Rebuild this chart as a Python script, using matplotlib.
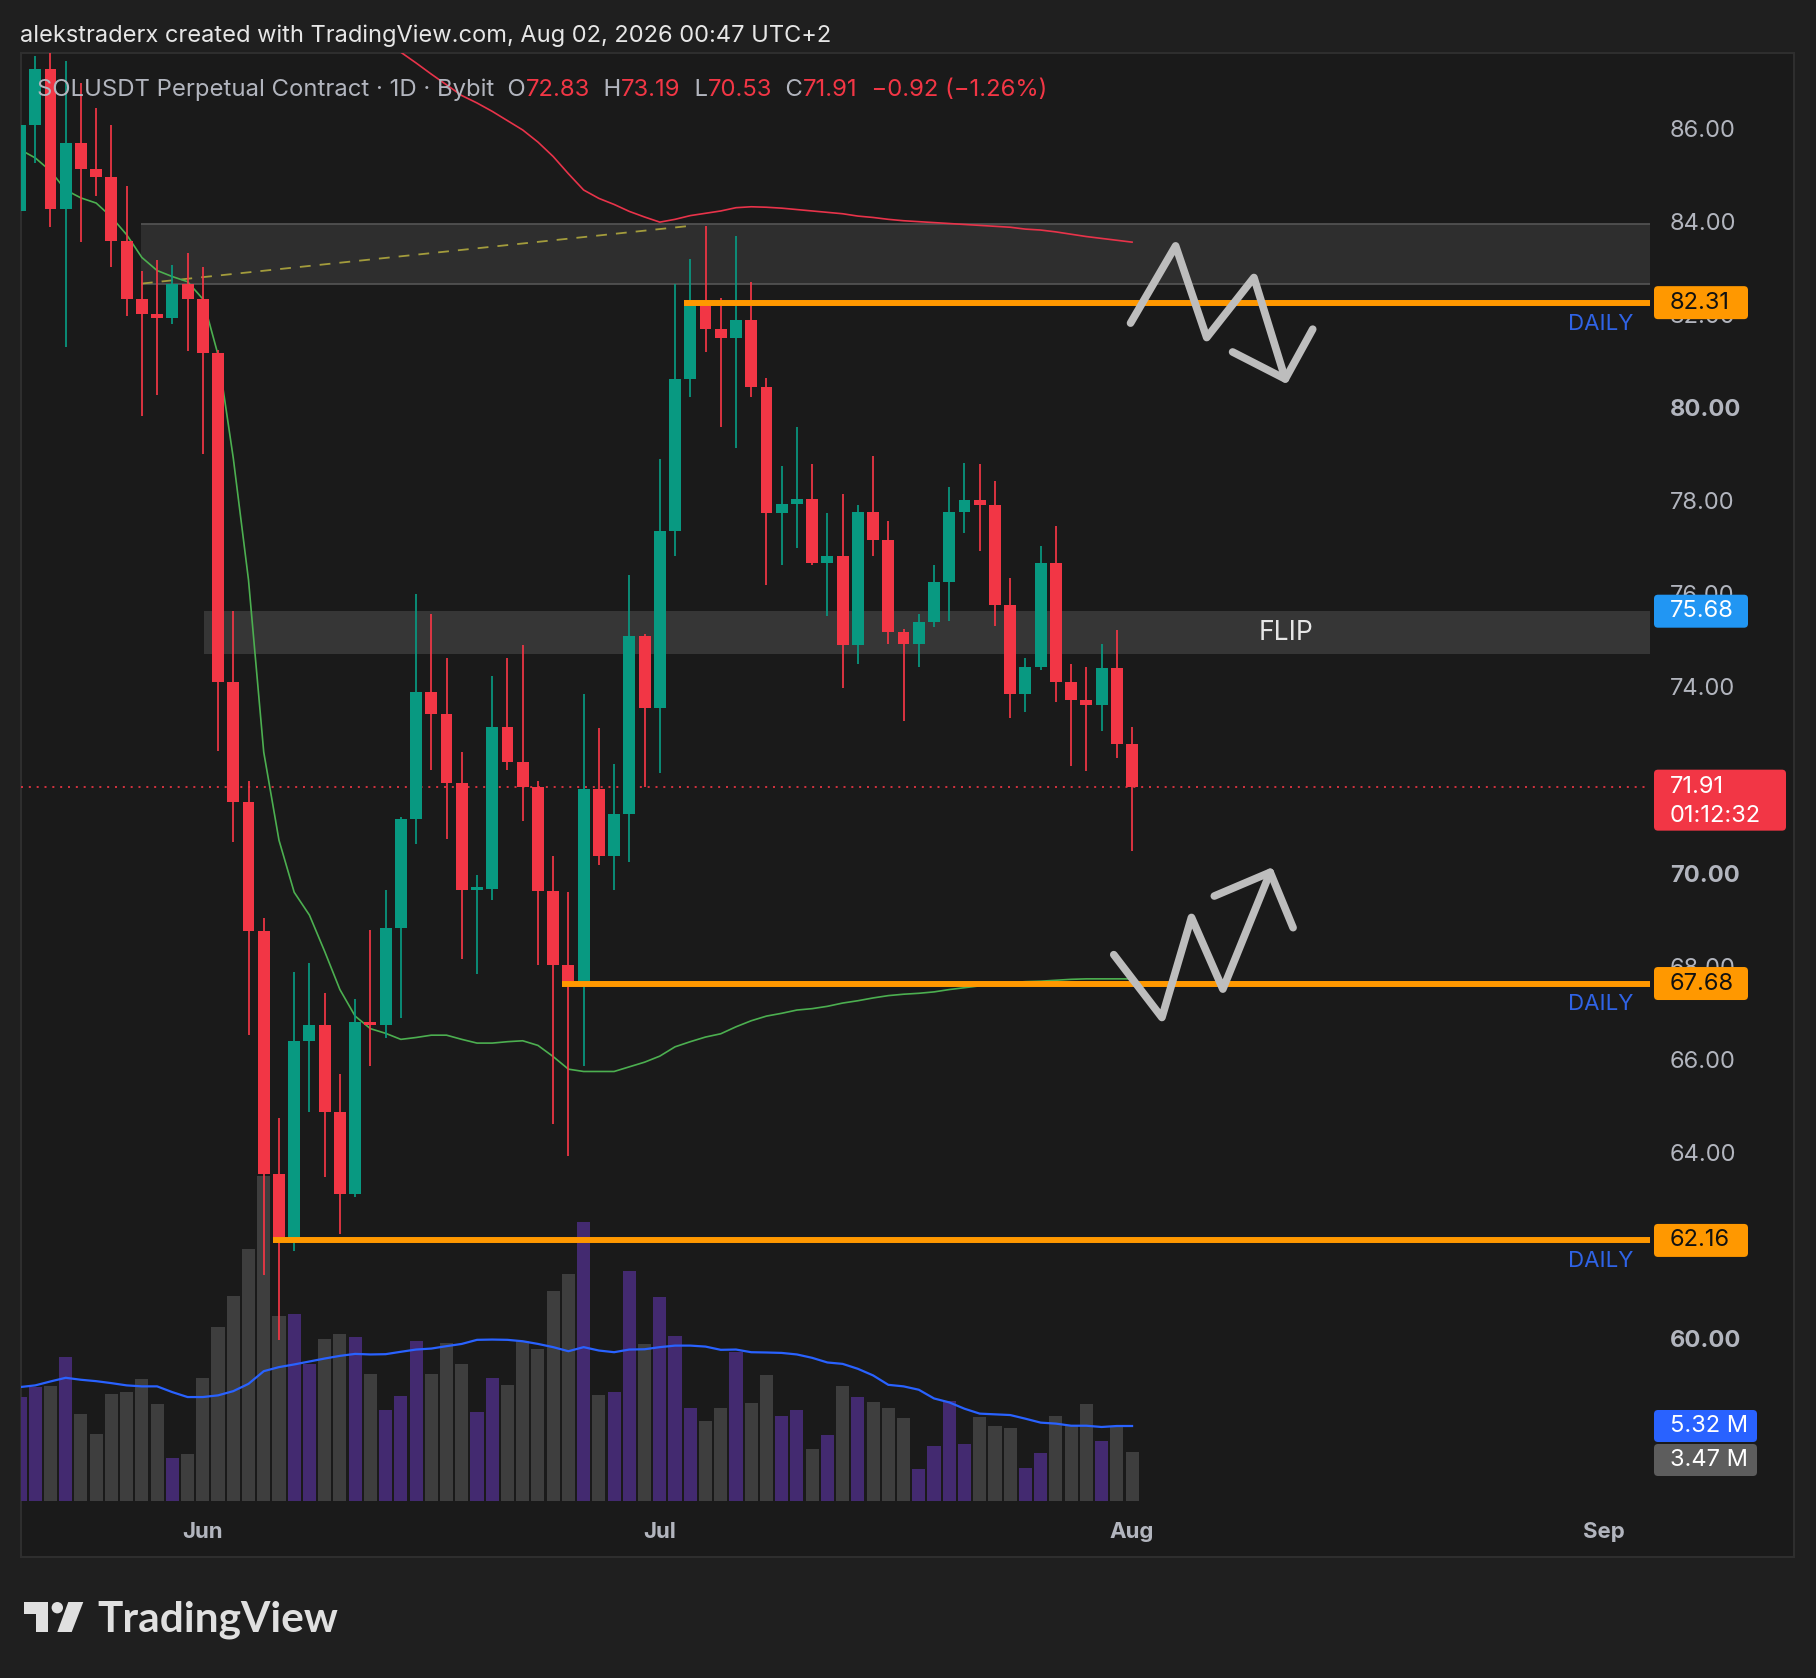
import matplotlib
matplotlib.use('Agg')
import matplotlib.pyplot as plt
import matplotlib.transforms as mtransforms
from matplotlib.patches import Rectangle, FancyBboxPatch, Polygon, Circle
import numpy as np

W, H, DPI = 1816, 1678, 100

# ---- SOLUSDT daily candles, 20 May -> 1 Aug ----
OPEN = [84.27, 86.12, 87.32, 84.32, 85.75, 85.19, 85.01, 83.63, 82.38, 82.07,
        81.97, 82.72, 82.39, 81.23, 74.16, 71.58, 68.81, 63.59, 62.13, 66.45,
        66.78, 64.92, 63.15, 66.86, 66.78, 68.87, 71.22, 73.95, 73.47, 71.99,
        69.69, 69.72, 73.19, 72.43, 71.91, 69.66, 68.08, 67.67, 71.86, 70.43,
        71.33, 75.15, 73.60, 77.41, 80.67, 82.30, 81.74, 81.54, 81.93, 80.50,
        77.79, 77.99, 78.10, 76.71, 76.87, 74.95, 77.82, 77.22, 75.24, 74.98,
        75.44, 76.31, 77.82, 78.07, 77.96, 75.82, 73.91, 74.49, 76.72, 74.16,
        73.77, 73.67, 74.46, 72.83]
HIGH = [86.90, 87.60, 87.70, 87.50, 87.03, 86.50, 86.12, 84.81, 83.00, 83.22,
        83.12, 83.38, 83.08, 81.30, 75.69, 72.04, 69.08, 64.79, 67.92, 68.13,
        67.47, 65.74, 67.34, 68.82, 69.69, 71.25, 76.05, 75.61, 74.67, 72.65,
        70.02, 74.29, 74.67, 74.95, 72.04, 70.43, 69.64, 73.91, 73.17, 72.40,
        76.46, 75.20, 78.94, 82.72, 83.25, 83.96, 82.40, 83.74, 82.76, 80.70,
        78.81, 79.63, 78.84, 77.78, 78.19, 77.96, 79.02, 77.61, 75.30, 75.61,
        76.67, 78.35, 78.86, 78.84, 78.48, 76.39, 74.67, 77.09, 77.50, 74.54,
        74.49, 74.98, 75.27, 73.19]
LOW = [83.82, 85.30, 83.94, 81.36, 83.61, 84.61, 83.08, 82.02, 79.88, 80.32,
       81.85, 81.28, 79.06, 72.68, 70.72, 66.57, 61.41, 60.03, 61.93, 64.92,
       63.53, 62.29, 63.10, 65.91, 66.52, 66.94, 70.68, 72.27, 70.79, 68.21,
       67.88, 69.47, 72.27, 71.17, 68.08, 64.67, 63.98, 65.91, 70.23, 69.69,
       70.30, 71.91, 72.20, 76.87, 80.29, 81.24, 79.63, 79.19, 80.29, 76.25,
       76.67, 77.04, 76.67, 75.57, 74.04, 74.54, 76.87, 74.98, 73.31, 74.49,
       75.33, 75.47, 77.37, 76.97, 75.36, 73.39, 73.52, 74.42, 73.72, 72.35,
       72.24, 73.11, 72.53, 70.53]
CLOSE = [86.12, 87.32, 84.32, 85.75, 85.19, 85.01, 83.63, 82.38, 82.07, 81.97,
         82.72, 82.39, 81.23, 74.16, 71.58, 68.81, 63.59, 62.13, 66.45, 66.78,
         64.92, 63.15, 66.86, 66.78, 68.87, 71.22, 73.95, 73.47, 71.99, 69.69,
         69.72, 73.19, 72.43, 71.91, 69.66, 68.08, 67.67, 71.86, 70.43, 71.33,
         75.15, 73.60, 77.41, 80.67, 82.30, 81.74, 81.54, 81.93, 80.50, 77.79,
         77.99, 78.10, 76.71, 76.87, 74.95, 77.82, 77.22, 75.24, 74.98, 75.44,
         76.31, 77.82, 78.07, 77.96, 75.82, 73.91, 74.49, 76.72, 74.16, 73.77,
         73.67, 74.46, 72.83, 71.91]
# volume in millions
VOLUME = [7.38, 8.09, 8.14, 10.22, 6.20, 4.78, 7.57, 7.71, 8.68, 6.91,
          3.07, 3.36, 8.75, 12.39, 14.59, 17.90, 23.10, 13.17, 13.29, 9.70,
          11.52, 11.83, 11.68, 8.99, 6.43, 7.43, 11.40, 8.99, 11.23, 9.70,
          6.29, 8.70, 8.21, 11.35, 10.83, 14.95, 16.13, 19.80, 7.50, 7.71,
          16.37, 11.12, 14.52, 11.75, 6.60, 5.68, 6.60, 10.55, 6.95, 8.92,
          6.03, 6.43, 3.67, 4.66, 8.14, 7.36, 7.00, 6.60, 5.89, 2.25,
          3.88, 7.07, 4.02, 5.96, 5.30, 5.16, 2.32, 3.41, 6.01, 5.30,
          6.86, 4.23, 5.30, 3.47]
VOL_MA = [8.09, 8.21, 8.49, 8.75, 8.61, 8.51, 8.37, 8.21, 8.14, 8.14,
          7.73, 7.38, 7.38, 7.50, 7.80, 8.32, 9.22, 9.51, 9.70, 9.91,
          10.12, 10.31, 10.45, 10.41, 10.43, 10.60, 10.76, 10.83, 11.00, 11.16,
          11.45, 11.47, 11.45, 11.35, 11.16, 10.93, 10.64, 10.93, 10.69, 10.57,
          10.76, 10.78, 10.93, 11.04, 11.04, 10.97, 10.74, 10.76, 10.57, 10.55,
          10.52, 10.41, 10.17, 9.84, 9.74, 9.39, 8.92, 8.25, 8.14, 7.90,
          7.28, 7.00, 6.55, 6.20, 6.15, 6.10, 5.84, 5.56, 5.49, 5.34,
          5.34, 5.25, 5.32, 5.32]
MA_FAST = [85.60, 85.42, 85.14, 84.73, 84.56, 84.45, 84.15, 83.77, 83.28, 83.00,
           82.87, 82.76, 82.39, 81.19, 78.97, 76.35, 72.65, 70.76, 69.64, 69.15,
           68.37, 67.55, 66.98, 66.71, 66.61, 66.48, 66.52, 66.57, 66.57, 66.48,
           66.40, 66.40, 66.43, 66.45, 66.35, 66.11, 65.84, 65.79, 65.79, 65.79,
           65.89, 65.99, 66.12, 66.32, 66.43, 66.53, 66.60, 66.75, 66.88, 66.98,
           67.04, 67.11, 67.14, 67.19, 67.26, 67.31, 67.37, 67.42, 67.45, 67.47,
           67.50, 67.55, 67.59, 67.63, 67.67, 67.70, 67.72, 67.73, 67.75, 67.77,
           67.78, 67.78, 67.78, 67.78]
MA_SLOW_FROM = 24
MA_SLOW = [87.93, 87.69, 87.46, 87.22, 86.99, 86.76, 86.60, 86.42, 86.22, 86.02,
           85.76, 85.45, 85.08, 84.73, 84.55, 84.42, 84.27, 84.15, 84.04, 84.10,
           84.18, 84.23, 84.28, 84.35, 84.37, 84.36, 84.34, 84.31, 84.28, 84.25,
           84.22, 84.17, 84.14, 84.10, 84.07, 84.05, 84.03, 84.01, 83.99, 83.97,
           83.95, 83.93, 83.89, 83.87, 83.83, 83.78, 83.73, 83.69, 83.65, 83.61]

LEVELS = [82.31, 67.68, 62.16]
LEVEL_FROM = [44, 36, 17]
TOP_ZONE = (82.72, 84.00)
TOP_ZONE_FROM = 7.95
FLIP_ZONE = (74.75, 75.68)
FLIP_FROM = 12.05
TREND_X = [8, 44]
TREND_Y = [82.72, 83.96]
LAST_PRICE = 71.91
# 72.00 and 62.00 sit fully under the price tags, so they are not drawn
PRICE_TICKS = [60, 64, 66, 68, 70, 74, 76, 78, 80, 82, 84, 86]
MONTHS = ['Jun', 'Jul', 'Aug', 'Sep']
MONTH_IDX = [12, 42, 73, 104]

# hand-drawn arrows (index, price)
DOWN_X = [72.9, 75.86, 77.9, 81.0, 83.06]
DOWN_Y = [81.87, 83.53, 81.56, 82.85, 80.67]
DOWN_HEAD_X = [79.6, 83.06, 84.86]
DOWN_HEAD_Y = [81.25, 80.67, 81.74]
UP_X = [71.8, 74.96, 76.9, 78.96, 82.07]
UP_Y = [68.30, 66.95, 69.10, 67.56, 70.07]
UP_HEAD_X = [78.4, 82.07, 83.57]
UP_HEAD_Y = [69.56, 70.07, 68.88]

BG = '#1f1f1f'
PANE = '#1a1a1a'
GREEN = '#089981'
RED = '#f23645'
VOL_UP = '#432a70'
VOL_DN = '#3e3e3e'
ORANGE = '#ff9800'
BLUE = '#2f63e6'
AXIS_TXT = '#b2b5be'

plt.rcParams['font.family'] = ['Inter', 'DejaVu Sans']

fig = plt.figure(figsize=(W / DPI, H / DPI), dpi=DPI, facecolor=BG)
ID = mtransforms.IdentityTransform()

# pane frame (pixel coords, y from bottom)
fig.add_artist(Rectangle((20.7, H - 1557), 1794 - 20.7, 1557 - 53, transform=ID,
                         fc=PANE, ec='#2e2e2e', lw=1.5, zorder=-1))

L, R, T, B = 20.7, 1650, 53, 1505
rect = [L / W, 1 - B / H, (R - L) / W, (B - T) / H]
vax = fig.add_axes(rect)
ax = fig.add_axes(rect)
for a in (vax, ax):
    a.set_axis_off()
    a.set_xlim(0.046, 107.0)
ax.set_ylim(56.475, 87.674)
vax.set_ylim(-0.3, 103.0)

x = np.arange(len(OPEN))
o, h, l, c = (np.array(v) for v in (OPEN, HIGH, LOW, CLOSE))
up = c >= o

# --- volume ---
vax.bar(x, VOLUME, width=0.86, color=np.where(up, VOL_UP, VOL_DN), linewidth=0, zorder=1)
vax.plot(x, VOL_MA, color='#2962ff', lw=1.6, zorder=2)

# --- zones ---
xr = 107.0
ax.add_patch(Rectangle((TOP_ZONE_FROM, TOP_ZONE[0]), xr - TOP_ZONE_FROM, TOP_ZONE[1] - TOP_ZONE[0],
                       fc='#2e2e2e', ec='none', zorder=1))
ax.hlines(TOP_ZONE, TOP_ZONE_FROM, xr, colors='#555555', lw=1.2, zorder=1.5)
ax.add_patch(Rectangle((FLIP_FROM, FLIP_ZONE[0]), xr - FLIP_FROM, FLIP_ZONE[1] - FLIP_ZONE[0],
                       fc='#363636', ec='none', zorder=1))
ax.text(83.1, sum(FLIP_ZONE) / 2, 'FLIP', color='#e6e6e6', fontsize=19,
        ha='center', va='center', zorder=8)
ax.plot(TREND_X, TREND_Y, color='#a39c3c', lw=1.3, ls=(0, (6, 5)), zorder=2)

# --- moving averages ---
ax.plot(x, MA_FAST, color='#4caf50', lw=1.2, zorder=3)
ax.plot(np.arange(MA_SLOW_FROM, MA_SLOW_FROM + len(MA_SLOW)), MA_SLOW, color='#e8334a', lw=1.2, zorder=3)

# --- last price line ---
ax.hlines(LAST_PRICE, 0.046, xr, colors=RED, lw=1.2, linestyles=(0, (1.2, 3.5)), zorder=3)

# --- candles ---
col = np.where(up, GREEN, RED)
ax.vlines(x, l, h, colors=col, lw=1.25, zorder=4)
ax.bar(x, np.maximum(np.abs(c - o), 0.07), bottom=np.minimum(o, c), width=0.78,
       color=col, linewidth=0, zorder=5)

# --- daily levels ---
for lv, st in zip(LEVELS, LEVEL_FROM):
    ax.hlines(lv, st - 0.4, xr, colors=ORANGE, lw=4.3, zorder=6)
    ax.text(105.9, lv - 0.45, 'DAILY', color=BLUE, fontsize=16, ha='right', va='center', zorder=8)

# --- arrows ---
arrow_kw = dict(color='#bdbdbd', lw=5.5, solid_capstyle='round', solid_joinstyle='round', zorder=7)
ax.plot(DOWN_X, DOWN_Y, **arrow_kw)
ax.plot(DOWN_HEAD_X, DOWN_HEAD_Y, **arrow_kw)
ax.plot(UP_X, UP_Y, **arrow_kw)
ax.plot(UP_HEAD_X, UP_HEAD_Y, **arrow_kw)


def ydisp(a, v):
    return a.transData.transform((0, v))[1]


def xdisp(a, v):
    return a.transData.transform((v, 0))[0]


# --- price scale ---
for t in PRICE_TICKS:
    fig.text(1670, ydisp(ax, t), f'{t:.2f}', transform=ID, color=AXIS_TXT, fontsize=17,
             fontweight='bold' if t % 10 == 0 else 'normal', ha='left', va='center', zorder=5)


def tag(yc, hgt, text, fc, tc, x1=1748):
    fig.add_artist(FancyBboxPatch((1654, yc - hgt / 2), x1 - 1654, hgt, transform=ID,
                                  boxstyle='round,pad=0,rounding_size=4', fc=fc, ec='none', zorder=10))
    fig.text(1670, yc, text, transform=ID, color=tc, fontsize=17, ha='left', va='center', zorder=11)


for lv in LEVELS:
    tag(ydisp(ax, lv), 33, f'{lv:.2f}', ORANGE, '#111111')
tag(ydisp(ax, FLIP_ZONE[1]), 33, f'{FLIP_ZONE[1]:.2f}', '#2196f3', 'white')

# current price tag with countdown
yc = ydisp(ax, LAST_PRICE)
fig.add_artist(FancyBboxPatch((1654, yc - 44), 1786 - 1654, 61, transform=ID,
                              boxstyle='round,pad=0,rounding_size=4', fc=RED, ec='none', zorder=10))
fig.text(1670, yc, f'{LAST_PRICE:.2f}', transform=ID, color='white', fontsize=17,
         ha='left', va='center', zorder=11)
fig.text(1670, yc - 29, '01:12:32', transform=ID, color='white', fontsize=17,
         ha='left', va='center', zorder=11)

# volume tags
yv = ydisp(vax, VOL_MA[-1])
tag(yv, 32, f'{VOL_MA[-1]:.2f} M', '#2962ff', 'white', x1=1757)
tag(yv - 34, 32, f'{VOLUME[-1]:.2f} M', '#5d5d5d', 'white', x1=1757)

# --- time scale ---
for m, i in zip(MONTHS, MONTH_IDX):
    fig.text(xdisp(ax, i), H - 1532, m, transform=ID, color=AXIS_TXT, fontsize=16,
             fontweight='bold', ha='center', va='center', zorder=5)

# --- header ---
fig.text(20, H - 36, 'alekstraderx created with TradingView.com, Aug 02, 2026 00:47 UTC+2',
         transform=ID, color='#e6e6e6', fontsize=17, ha='left', va='center', zorder=12)

pieces = [('SOLUSDT Perpetual Contract · 1D · Bybit', AXIS_TXT), ('  O', AXIS_TXT), ('72.83', RED),
          ('  H', AXIS_TXT), ('73.19', RED), ('  L', AXIS_TXT), ('70.53', RED),
          ('  C', AXIS_TXT), ('71.91', RED), ('  \u22120.92 (\u22121.26%)', RED)]
renderer = fig.canvas.get_renderer()
xcur = 37
for s, colr in pieces:
    t = fig.text(xcur, H - 90, s, transform=ID, color=colr, fontsize=17.2,
                 ha='left', va='center', zorder=12)
    xcur = t.get_window_extent(renderer=renderer).x1

# --- TradingView logo ---
LOGO = '#e0e0e0'
fig.add_artist(Polygon([(24, H - 1602), (48.3, H - 1602), (48.3, H - 1632), (36, H - 1632),
                        (36, H - 1614), (24, H - 1614)], closed=True, transform=ID, fc=LOGO, ec='none'))
fig.add_artist(Circle((57.3, H - 1607.7), 5.7, transform=ID, fc=LOGO, ec='none'))
fig.add_artist(Polygon([(68.3, H - 1602), (83.3, H - 1602), (71.7, H - 1632), (57.3, H - 1632)],
                       closed=True, transform=ID, fc=LOGO, ec='none'))
fig.text(97.7, H - 1631.7, 'TradingView', transform=ID, color=LOGO, fontsize=30.5,
         fontweight='bold', family=['Lato', 'DejaVu Sans'], ha='left', va='baseline')

fig.savefig('out.png', dpi=DPI, facecolor=BG)
